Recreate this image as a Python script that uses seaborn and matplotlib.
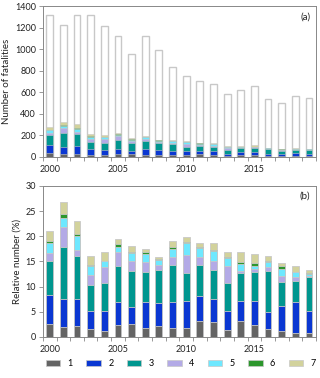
import numpy as np
import pandas as pd
import matplotlib
matplotlib.use('Agg')
import matplotlib.pyplot as plt
from matplotlib.patches import Patch
import seaborn as sns

years = list(range(2000, 2020))

# total number of fatalities per year (panel a)
totals = [1320, 1220, 1315, 1320, 1215, 1125, 955, 1120, 990, 830,
          750, 705, 680, 580, 625, 655, 540, 500, 565, 545]

# relative number (%) of each category per year (panel b)
cat1 = [2.6, 1.9, 2.1, 1.65, 1.1, 2.4, 2.6, 1.85, 2.2, 1.8, 1.8, 3.2, 3.0, 1.4, 3.2, 2.4, 1.65, 1.1, 0.85, 0.85]
cat2 = [5.8, 5.7, 5.5, 3.55, 4.1, 4.5, 3.4, 5.05, 4.5, 5.1, 5.4, 4.9, 4.5, 3.8, 4.0, 4.8, 3.35, 5.1, 6.05, 4.35]
cat3 = [6.7, 10.2, 8.4, 5.2, 5.6, 7.2, 7.1, 6.1, 6.7, 7.4, 5.6, 6.2, 5.8, 5.6, 5.6, 5.8, 8.1, 4.8, 4.3, 6.7]
cat4 = [1.6, 4.0, 1.3, 1.9, 3.1, 2.8, 2.0, 1.9, 0.9, 1.6, 3.5, 1.6, 1.8, 3.3, 0.4, 0.5, 0.9, 1.1, 0.8, 0.3]
cat5 = [1.9, 1.9, 2.7, 1.8, 1.2, 0.9, 1.6, 1.6, 0.9, 1.5, 2.3, 1.7, 2.0, 1.5, 1.3, 0.6, 0.9, 1.4, 0.9, 0.4]
cat6 = [0.4, 0.7, 0.5, 0.3, 0.05, 0.7, 0.2, 0.3, 0.3, 0.4, 0.3, 0.2, 0.1, 0.3, 0.4, 0.5, 0.2, 0.6, 0.1, 0.2]
cat7 = [2.0, 2.5, 2.5, 1.6, 1.8, 1.0, 1.1, 0.7, 0.4, 1.2, 1.0, 0.8, 1.4, 1.0, 1.9, 1.9, 0.9, 0.6, 1.2, 0.5]

cat_labels = ['1', '2', '3', '4', '5', '6', '7']
cat_colors = ['#646464', '#0a37d2', '#00968f', '#b3aae6', '#6ee8ff', '#2c962c', '#d2d29c']

rel = np.array([cat1, cat2, cat3, cat4, cat5, cat6, cat7])
cum = np.cumsum(rel, axis=0)
df = pd.DataFrame({'year': [str(y) for y in years], 'total': totals})
for i in range(7):
    df['rel%d' % (i + 1)] = cum[i]
    df['abs%d' % (i + 1)] = cum[i] * np.array(totals) / 100.0

plt.rcParams['font.family'] = ['Lato', 'DejaVu Sans']
fig = plt.figure(figsize=(3.2, 3.78), dpi=100)
ax1 = fig.add_axes([0.134, 0.585, 0.853, 0.399])
ax2 = fig.add_axes([0.134, 0.1085, 0.853, 0.3995])

edge = '#c8c8c8'
w = 0.5

# panel a: white total bars, then cumulative stacks drawn back to front
sns.barplot(data=df, x='year', y='total', color='white', edgecolor=edge,
            linewidth=1.0, width=w, ax=ax1)
for i in range(6, -1, -1):
    sns.barplot(data=df, x='year', y='abs%d' % (i + 1), color=cat_colors[i],
                edgecolor=edge, linewidth=0.4, width=w, saturation=1, ax=ax1)

# panel b: relative stacks
for i in range(6, -1, -1):
    sns.barplot(data=df, x='year', y='rel%d' % (i + 1), color=cat_colors[i],
                edgecolor=edge, linewidth=0.6, width=w, saturation=1, ax=ax2)

for ax, ylim, step, lab, tag in [(ax1, 1400, 200, 'Number of fatalities', '(a)'),
                                 (ax2, 30, 5, 'Relative number (%)', '(b)')]:
    ax.set_ylim(0, ylim)
    ax.set_yticks(np.arange(0, ylim + 1, step))
    ax.set_xlim(-0.5, 19.5)
    ax.set_xticks([0, 5, 10, 15])
    ax.set_xticklabels(['2000', '2005', '2010', '2015'])
    ax.set_xticks(np.arange(-0.5, 20, 1), minor=True)
    ax.tick_params(axis='x', which='major', length=0, labelsize=6.5, pad=6, colors='#222222')
    ax.tick_params(axis='x', which='minor', length=3, width=0.6, color='#888888')
    ax.tick_params(axis='y', length=3, width=0.6, color='#888888', labelsize=6.5,
                   labelcolor='#222222', pad=2)
    ax.set_xlabel('')
    ax.set_ylabel(lab, fontsize=7, color='#222222', labelpad=3)
    for s in ax.spines.values():
        s.set_color('#888888')
        s.set_linewidth(0.7)
    ax.text(0.98, 0.96, tag, transform=ax.transAxes, ha='right', va='top',
            fontsize=7, color='#222222')

handles = [Patch(facecolor=c, edgecolor=edge, linewidth=0.5) for c in cat_colors]
fig.legend(handles, cat_labels, loc='lower center', bbox_to_anchor=(0.565, 0.005),
           ncol=7, frameon=False, fontsize=6.5, handlelength=1.6, handleheight=0.55,
           columnspacing=1.5, handletextpad=0.8)

fig.savefig('out.png', dpi=100)
